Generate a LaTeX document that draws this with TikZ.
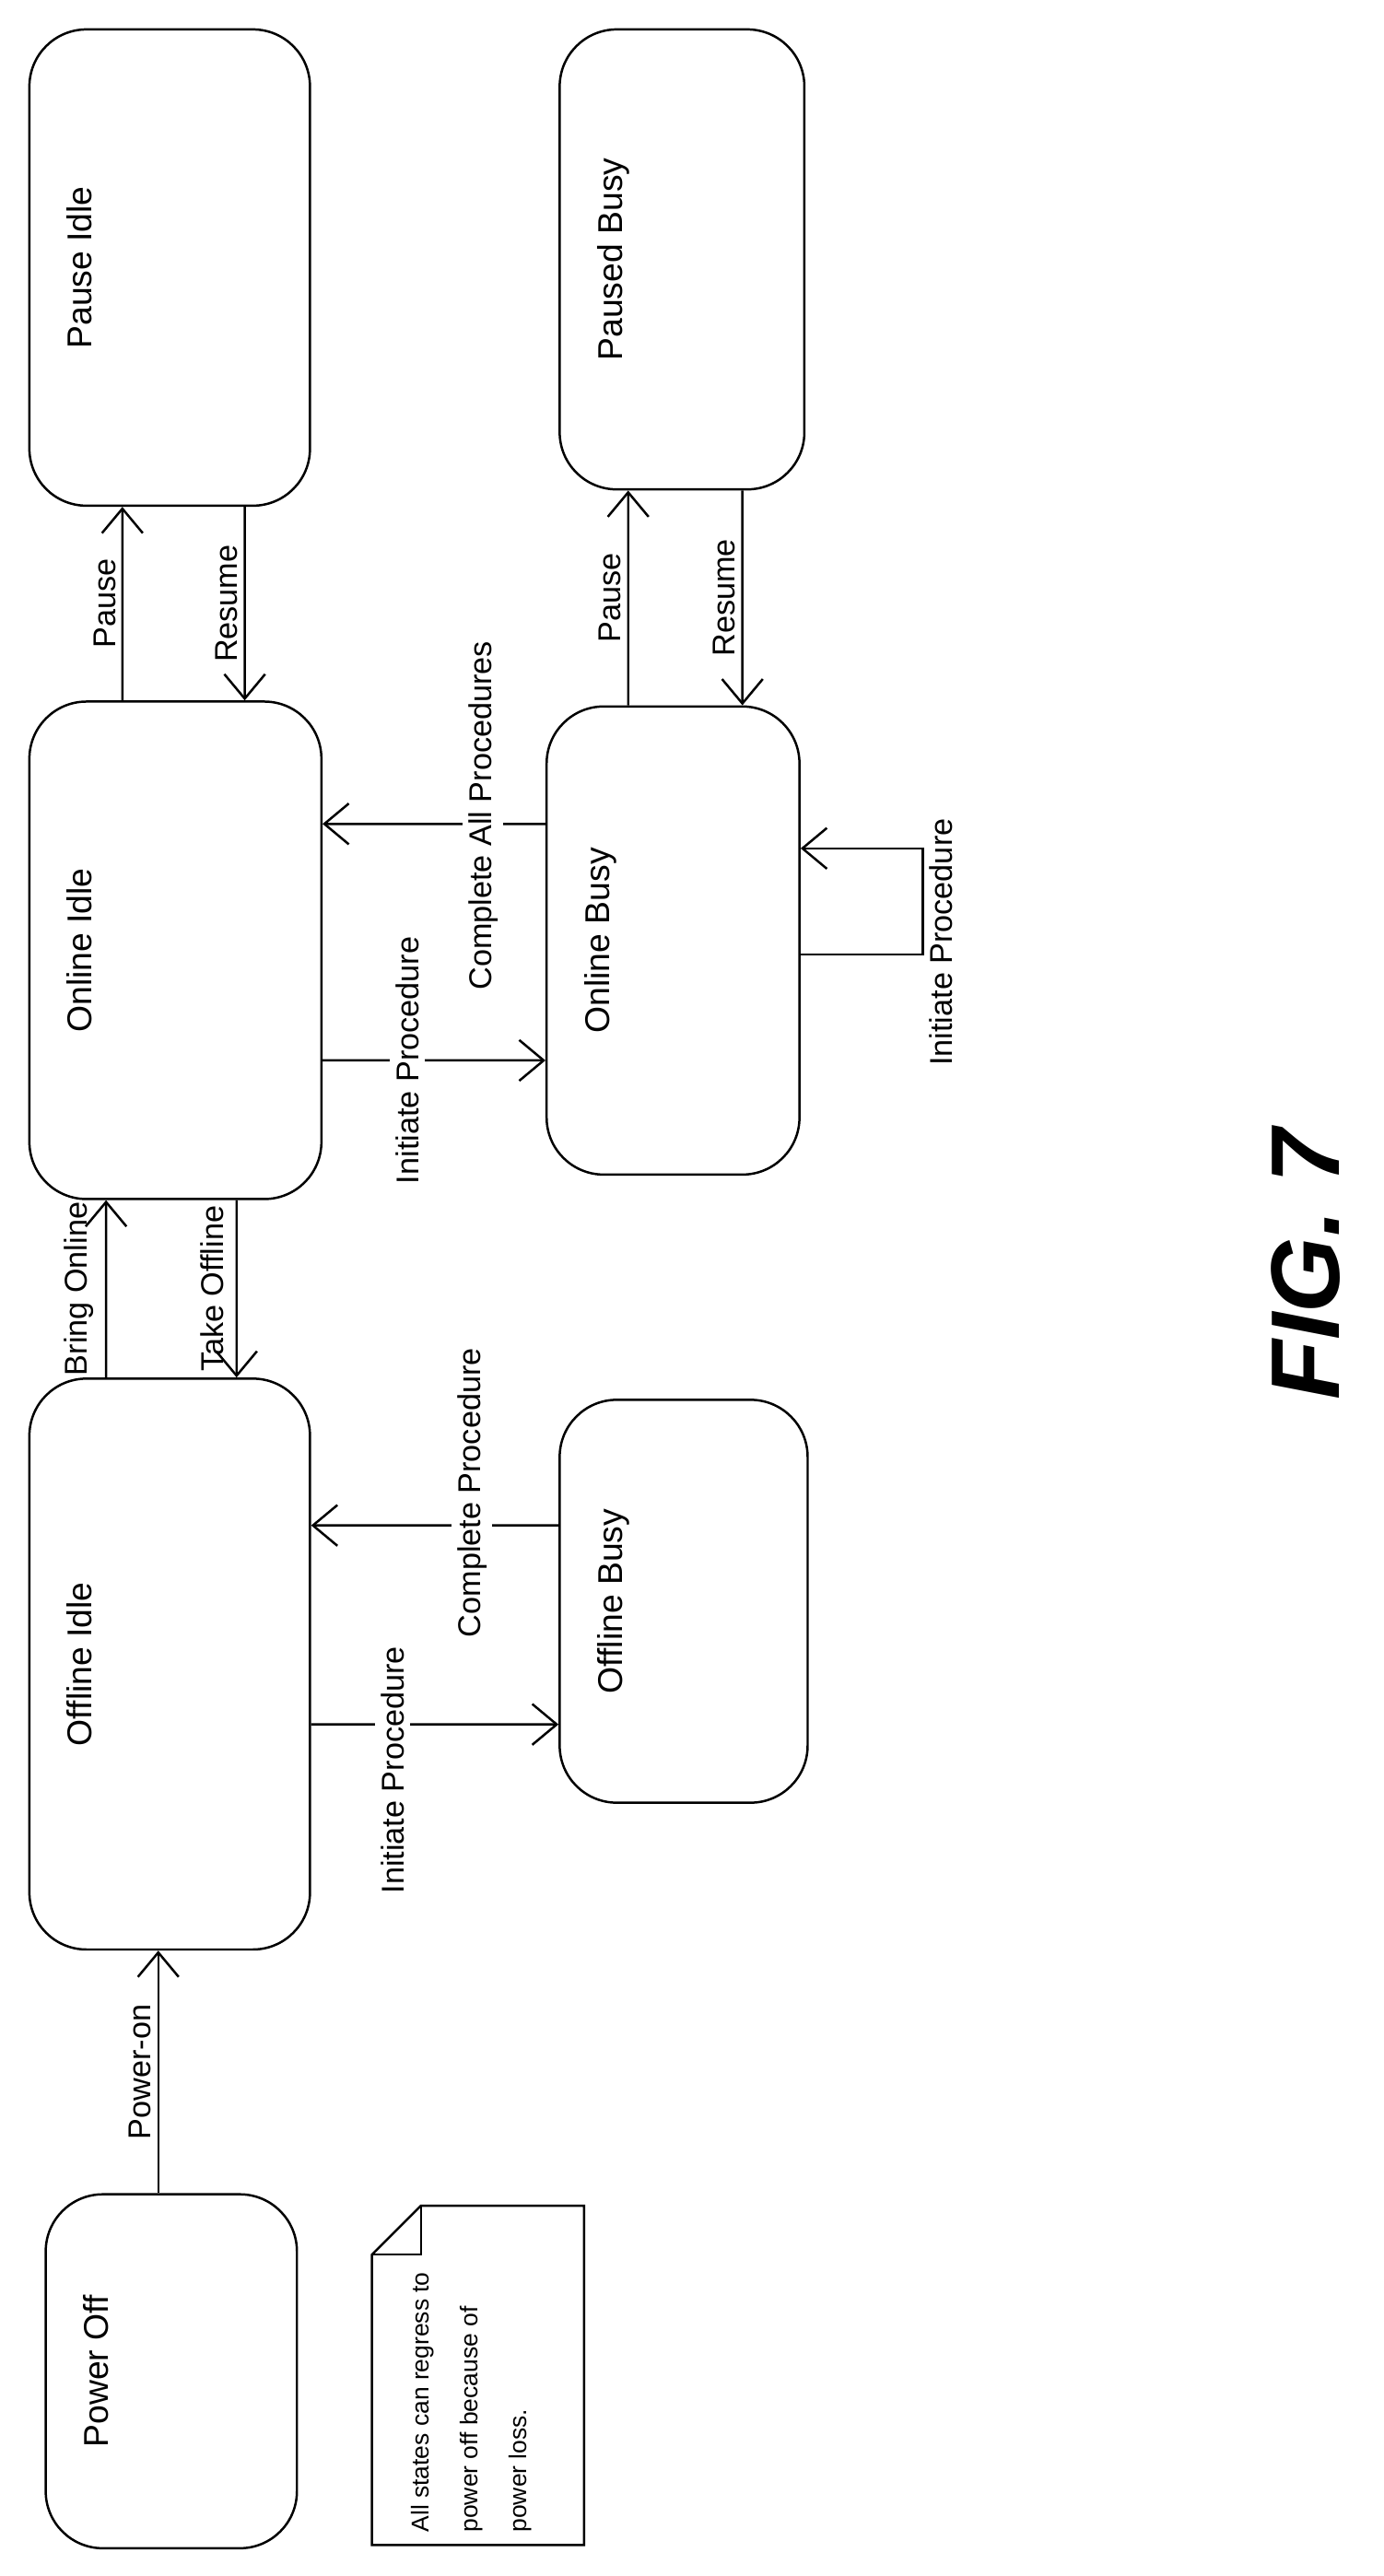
\documentclass[tikz,border=0pt]{standalone}
\usepackage{fontspec}
\setmainfont{Liberation Sans}
\usetikzlibrary{positioning, arrows.meta}
\tikzset{
    state/.style={rectangle, rounded corners=0.7cm, draw, thick, inner sep=0pt},
    title/.style={label={[anchor=west, xshift=0.35cm, font=\fontsize{12}{14}\selectfont]west:\rotatebox{90}{#1}}},
    lab/.style={font=\fontsize{11}{13}\selectfont, inner sep=2pt},
    arr/.style={thick, -{Straight Barb[length=3mm, width=5mm]}}
}
\newcommand{\rt}[1]{\rotatebox{90}{#1}}

\begin{document}
\begin{tikzpicture}[x=0.02cm, y=-0.02cm]
    \useasboundingbox (0,0) rectangle (848,1579);
    % states
    \node[state, minimum width=3.44cm, minimum height=5.84cm, title=Pause Idle] (pidle) at (104,164) {};
    \node[state, minimum width=3.00cm, minimum height=5.64cm, title=Paused Busy] (pbusy) at (418,159) {};
    \node[state, minimum width=3.58cm, minimum height=6.10cm, title=Online Idle] (onidle) at (107.5,582.5) {};
    \node[state, minimum width=3.10cm, minimum height=5.74cm, title=Online Busy] (onbusy) at (412.5,576.5) {};
    \node[state, minimum width=3.44cm, minimum height=7.00cm, title=Offline Idle] (offidle) at (104,1020) {};
    \node[state, minimum width=3.04cm, minimum height=4.94cm, title=Offline Busy] (offbusy) at (419,981.5) {};
    \node[state, minimum width=3.08cm, minimum height=4.34cm, title=Power Off] (poff) at (105,1453.5) {};

    % vertical transitions
    \draw[arr] ([xshift=-0.16cm]poff.north) -- node[lab, left] {\rt{Power-on}} ([xshift=-0.14cm]offidle.south);
    \draw[arr] ([xshift=-0.78cm]offidle.north) -- node[lab, left, inner sep=4pt] {\rt{Bring Online}} ([xshift=-0.85cm]onidle.south);
    \draw[arr] ([xshift=0.75cm]onidle.south) -- node[lab, left, inner sep=4pt] {\rt{Take Offline}} ([xshift=0.82cm]offidle.north);
    \draw[arr] ([xshift=-0.65cm]onidle.north) -- node[lab, left] {\rt{Pause}} ([xshift=-0.58cm]pidle.south);
    \draw[arr] ([xshift=0.92cm]pidle.south) -- node[lab, left] {\rt{Resume}} ([xshift=0.85cm]onidle.north);
    \draw[arr] ([xshift=-0.55cm]onbusy.north) -- node[lab, left] {\rt{Pause}} ([xshift=-0.66cm]pbusy.south);
    \draw[arr] ([xshift=0.74cm]pbusy.south) -- node[lab, left] {\rt{Resume}} ([xshift=0.85cm]onbusy.north);

    % horizontal transitions
    \draw[arr] ([yshift=-0.74cm]offidle.east) -- node[lab, fill=white, pos=0.33, yshift=-0.56cm] {\rt{Initiate Procedure}} ([yshift=-1.51cm]offbusy.west);
    \draw[arr] ([yshift=0.93cm]offbusy.west) -- node[lab, fill=white, pos=0.35, yshift=0.4cm] {\rt{Complete Procedure}} ([yshift=1.70cm]offidle.east);
    \draw[arr] ([yshift=-1.35cm]onidle.east) -- node[lab, fill=white, pos=0.38] {\rt{Initiate Procedure}} ([yshift=-1.47cm]onbusy.west);
    \draw[arr] ([yshift=1.43cm]onbusy.west) -- node[lab, fill=white, pos=0.28, yshift=0.1cm] {\rt{Complete All Procedures}} ([yshift=1.55cm]onidle.east);

    % self transition
    \draw[arr] ([yshift=-0.17cm]onbusy.east) -- ++(1.5cm,0) |- node[lab, pos=0.25, right, yshift=-0.5cm] {\rt{Initiate Procedure}} ([yshift=1.13cm]onbusy.east);

    % note
    \draw[thick] (228,1382) -- (258,1352) -- (358,1352) -- (358,1560) -- (228,1560) -- cycle;
    \draw[thick] (228,1382) -- (258,1382) -- (258,1352);
    \node[lab, font=\fontsize{8.5}{17}\selectfont, anchor=south west] (note) at (238,1556) {\rt{\begin{tabular}{@{}l@{}}All states can regress to\\power off because of\\power loss.\end{tabular}}};

    % figure caption
    \node[font=\fontsize{34}{40}\selectfont\bfseries\itshape] (fig) at (800,775) {\rt{FIG. 7}};
\end{tikzpicture}
\end{document}
